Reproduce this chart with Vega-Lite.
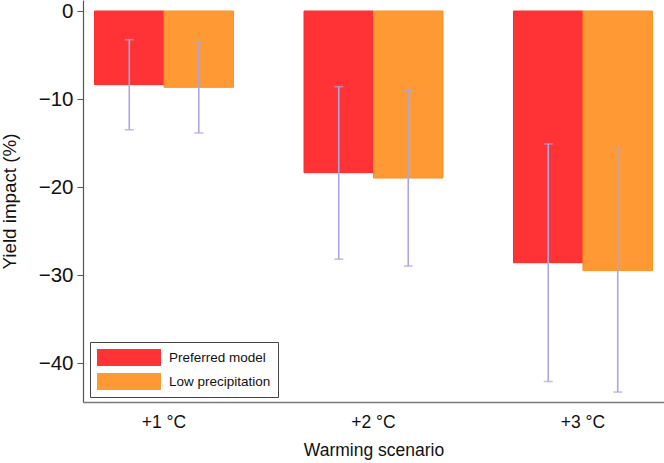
{
  "$schema": "https://vega.github.io/schema/vega-lite/v6.json",
  "width": 581,
  "height": 402,
  "autosize": {"type": "none"},
  "padding": {"left": 83, "top": 0, "right": 0, "bottom": 61},
  "background": "white",
  "config": {
    "view": {"stroke": null},
    "font": "Liberation Sans",
    "axis": {"grid": false, "labelColor": "#111", "titleColor": "#111", "titleFontWeight": "normal", "labelFont": "Liberation Sans", "titleFont": "Liberation Sans"}
  },
  "data": {
    "values": [
      {"scenario": "+1 °C", "series": "Preferred model", "value": -8.37, "hi": -3.26, "lo": -13.5},
      {"scenario": "+1 °C", "series": "Low precipitation", "value": -8.67, "hi": -3.49, "lo": -13.86},
      {"scenario": "+2 °C", "series": "Preferred model", "value": -18.37, "hi": -8.6, "lo": -28.2},
      {"scenario": "+2 °C", "series": "Low precipitation", "value": -18.98, "hi": -9.0, "lo": -28.98},
      {"scenario": "+3 °C", "series": "Preferred model", "value": -28.6, "hi": -15.1, "lo": -42.1},
      {"scenario": "+3 °C", "series": "Low precipitation", "value": -29.5, "hi": -15.7, "lo": -43.3}
    ]
  },
  "encoding": {
    "x": {
      "field": "scenario", "type": "nominal", "sort": null,
      "scale": {"paddingInner": 0.3365, "paddingOuter": 0.055},
      "axis": {"title": "Warming scenario", "labelAngle": 0, "labelFontSize": 17.5, "titleFontSize": 17.5, "tickSize": 0, "labelPadding": 11, "titlePadding": 11, "domainColor": "#777", "domainWidth": 1.5}
    },
    "xOffset": {"field": "series", "type": "nominal", "sort": ["Preferred model", "Low precipitation"]}
  },
  "layer": [
    {
      "mark": {"type": "bar", "strokeWidth": 1},
      "encoding": {
        "y": {
          "field": "value", "type": "quantitative",
          "scale": {"domain": [-44.43, 1.25], "nice": false, "zero": false},
          "axis": {"title": "Yield impact (%)", "values": [0, -10, -20, -30, -40], "format": "d", "labelFontSize": 20.5, "titleFontSize": 18.8, "tickSize": 6, "tickColor": "#555", "domainColor": "#555", "domainWidth": 1.2, "labelPadding": 4, "titlePadding": 19}
        },
        "y2": {"datum": 0},
        "color": {
          "field": "series", "type": "nominal", "sort": ["Preferred model", "Low precipitation"],
          "scale": {"domain": ["Preferred model", "Low precipitation"], "range": ["#FF3336", "#FF9933"]},
          "legend": {
            "title": null, "orient": "none", "legendX": 7, "legendY": 342,
            "direction": "vertical",
            "symbolType": "M-1,-0.265H1V0.265H-1Z", "symbolSize": 4096,
            "symbolStrokeWidth": 0,
            "clipHeight": 17,
            "rowPadding": 7,
            "labelFontSize": 13.5, "labelOffset": 8, "labelColor": "#111",
            "strokeColor": "#444", "fillColor": "white", "padding": 7
          }
        },
        "stroke": {
          "field": "series", "type": "nominal",
          "scale": {"domain": ["Preferred model", "Low precipitation"], "range": ["#FF2A2A", "#FF9020"]},
          "legend": null
        }
      }
    },
    {
      "mark": {"type": "rule", "color": "#A9A6E0", "strokeWidth": 1.6},
      "encoding": {
        "y": {"field": "hi", "type": "quantitative"},
        "y2": {"field": "lo"}
      }
    },
    {
      "mark": {"type": "tick", "color": "#A9A6E0", "thickness": 1.6, "size": 9, "orient": "horizontal"},
      "encoding": {"y": {"field": "hi", "type": "quantitative"}}
    },
    {
      "mark": {"type": "tick", "color": "#A9A6E0", "thickness": 1.6, "size": 9, "orient": "horizontal"},
      "encoding": {"y": {"field": "lo", "type": "quantitative"}}
    }
  ]
}
